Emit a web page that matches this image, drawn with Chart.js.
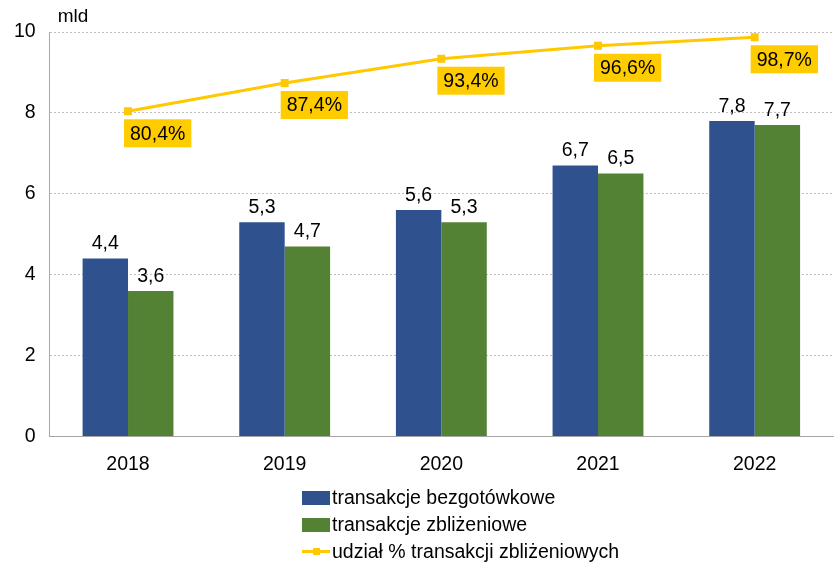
<!DOCTYPE html>
<html>
<head>
<meta charset="utf-8">
<script src="https://cdn.jsdelivr.net/npm/chart.js@4"></script>
<style>
  body { margin: 0; background: #fff; }
  #wrap { position: relative; width: 840px; height: 563px; }
  #legend { position: absolute; left: 302px; top: 484px; font: 19.5px "Liberation Sans", Arial, sans-serif; color: #000; }
  .item { display: flex; align-items: center; height: 27px; }
  .sw { width: 28px; height: 14px; margin-right: 2px; position: relative; }
  .ln { height: 3px; background: #FFC800; width: 28px; margin-right: 2px; position: relative; }
  .ln::after { content: ''; position: absolute; left: 11px; top: -2px; width: 7px; height: 7px; background: #FFC800; }
</style>
</head>
<body>
<div id="wrap">
  <canvas id="chart" width="840" height="563"></canvas>
  <div id="legend">
    <div class="item"><span class="sw" style="background:#2F528F"></span>transakcje bezgotówkowe</div>
    <div class="item"><span class="sw" style="background:#548235"></span>transakcje zbliżeniowe</div>
    <div class="item"><span class="ln"></span>udział % transakcji zbliżeniowych</div>
  </div>
</div>
<script>
// Data
const years = ['2018', '2019', '2020', '2021', '2022'];
const cashless = [4.4, 5.3, 5.6, 6.7, 7.8];
const contactless = [3.6, 4.7, 5.3, 6.5, 7.7];
const sharePct = [80.4, 87.4, 93.4, 96.6, 98.7];
const yTicks = [0, 2, 4, 6, 8, 10];

const fmt = v => v.toFixed(1).replace('.', ',');
const FONT = '"Liberation Sans", Arial, sans-serif';
const FS = 19.5;

// Labels over bars, boxes under line points, "mld" unit
const labelPlugin = {
    id: 'labels',
    afterDatasetsDraw(chart) {
        const ctx = chart.ctx;
        ctx.save();
        ctx.font = FS + 'px ' + FONT;
        ctx.fillStyle = '#000';
        ctx.textAlign = 'center';
        ctx.textBaseline = 'bottom';
        [0, 1].forEach(di => {
            const meta = chart.getDatasetMeta(di);
            meta.data.forEach((bar, i) => {
                const v = chart.data.datasets[di].data[i];
                ctx.fillText(fmt(v), bar.x, bar.y - 5);
            });
        });

        const lineMeta = chart.getDatasetMeta(2);
        ctx.textAlign = 'left';
        ctx.textBaseline = 'middle';
        lineMeta.data.forEach((pt, i) => {
            const txt = fmt(sharePct[i]) + '%';
            const w = ctx.measureText(txt).width + 12;
            const left = pt.x - 4;
            const top = Math.max(pt.y + 8, chart.chartArea.top + 5);
            ctx.fillStyle = '#FFCC00';
            ctx.fillRect(left, top, w, 28);
            ctx.fillStyle = '#000';
            ctx.fillText(txt, left + 6, top + 15);
        });

        ctx.textAlign = 'left';
        ctx.textBaseline = 'alphabetic';
        ctx.font = '19px ' + FONT;
        ctx.fillText('mld', chart.chartArea.left + 8, chart.chartArea.top - 10);
        ctx.restore();
    }
};

new Chart(document.getElementById('chart'), {
    type: 'bar',
    data: {
        labels: years,
        datasets: [
            {
                label: 'transakcje bezgotówkowe',
                data: cashless,
                backgroundColor: '#2F528F',
                categoryPercentage: 0.58,
                barPercentage: 1,
                order: 2
            },
            {
                label: 'transakcje zbliżeniowe',
                data: contactless,
                backgroundColor: '#548235',
                categoryPercentage: 0.58,
                barPercentage: 1,
                order: 2
            },
            {
                type: 'line',
                label: 'udział % transakcji zbliżeniowych',
                data: sharePct,
                yAxisID: 'y1',
                borderColor: '#FFC800',
                backgroundColor: '#FFC800',
                borderWidth: 3,
                pointStyle: 'rect',
                pointRadius: 3.5,
                tension: 0,
                order: 1
            }
        ]
    },
    options: {
        responsive: false,
        animation: false,
        layout: { padding: { top: 32, right: 2, bottom: 79, left: 0 } },
        plugins: {
            legend: { display: false },
            tooltip: { enabled: false }
        },
        scales: {
            x: {
                grid: { display: false },
                border: { display: true, color: '#A6A6A6', width: 1 },
                ticks: { color: '#000', font: { size: FS, family: FONT }, padding: 8 }
            },
            y: {
                min: 0,
                max: 10,
                afterBuildTicks: axis => { axis.ticks = yTicks.map(v => ({ value: v })); },
                grid: {
                    color: ctx => ctx.tick.value === 0 ? 'rgba(0,0,0,0)' : '#BFBFBF',
                    drawTicks: false
                },
                border: { display: true, color: '#A6A6A6', width: 1, dash: [2, 2] },
                ticks: { color: '#000', font: { size: FS, family: FONT }, padding: 14 }
            },
            y1: {
                display: false,
                min: 0,
                max: 100
            }
        }
    },
    plugins: [labelPlugin]
});
</script>
</body>
</html>
